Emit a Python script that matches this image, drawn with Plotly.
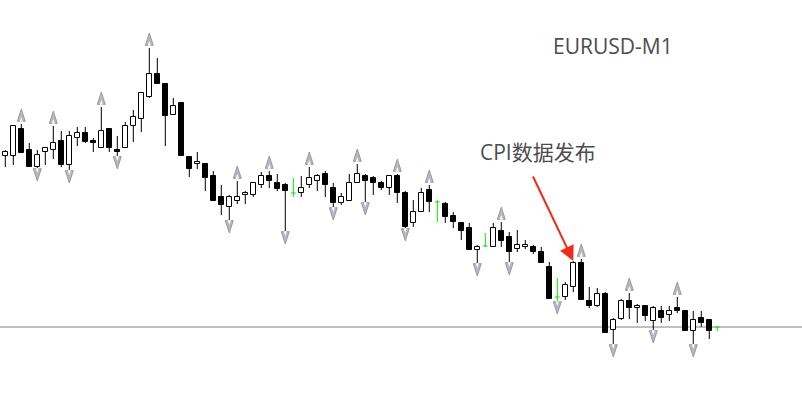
import plotly.graph_objects as go

# EURUSD M1 candles (prices)
open_ = [1.08671, 1.08671, 1.08698, 1.08677, 1.08660, 1.08675, 1.08677, 1.08686, 1.08662, 1.08689,
         1.08694, 1.08686, 1.08679, 1.08698, 1.08677, 1.08679, 1.08701, 1.08708, 1.08730, 1.08753,
         1.08743, 1.08712, 1.08724, 1.08670, 1.08663, 1.08663, 1.08651, 1.08630, 1.08620, 1.08626,
         1.08632, 1.08632, 1.08642, 1.08651, 1.08644, 1.08642, 1.08634, 1.08634, 1.08642, 1.08646,
         1.08653, 1.08639, 1.08624, 1.08626, 1.08644, 1.08651, 1.08649, 1.08644, 1.08639, 1.08651,
         1.08634, 1.08604, 1.08615, 1.08637, 1.08625, 1.08623, 1.08611, 1.08604, 1.08599, 1.08577,
         1.08581, 1.08580, 1.08596, 1.08590, 1.08578, 1.08580, 1.08580, 1.08575, 1.08560, 1.08530,
         1.08530, 1.08540, 1.08564, 1.08526, 1.08521, 1.08533, 1.08497, 1.08508, 1.08526, 1.08519,
         1.08521, 1.08506, 1.08516, 1.08512, 1.08519, 1.08516, 1.08496, 1.08509, 1.08507, 1.08500]
high = [1.08677, 1.08701, 1.08703, 1.08684, 1.08677, 1.08679, 1.08701, 1.08696, 1.08696, 1.08700,
        1.08700, 1.08689, 1.08720, 1.08698, 1.08691, 1.08705, 1.08717, 1.08734, 1.08779, 1.08769,
        1.08743, 1.08729, 1.08724, 1.08671, 1.08675, 1.08663, 1.08656, 1.08642, 1.08632, 1.08646,
        1.08636, 1.08644, 1.08655, 1.08656, 1.08653, 1.08644, 1.08649, 1.08651, 1.08660, 1.08653,
        1.08656, 1.08644, 1.08634, 1.08653, 1.08663, 1.08653, 1.08651, 1.08646, 1.08651, 1.08653,
        1.08636, 1.08627, 1.08639, 1.08642, 1.08627, 1.08625, 1.08615, 1.08605, 1.08604, 1.08582,
        1.08594, 1.08604, 1.08605, 1.08595, 1.08597, 1.08587, 1.08582, 1.08580, 1.08565, 1.08549,
        1.08545, 1.08566, 1.08568, 1.08540, 1.08539, 1.08535, 1.08509, 1.08528, 1.08534, 1.08523,
        1.08521, 1.08521, 1.08521, 1.08521, 1.08530, 1.08516, 1.08516, 1.08516, 1.08507, 1.08500]
low = [1.08660, 1.08662, 1.08674, 1.08660, 1.08659, 1.08662, 1.08668, 1.08660, 1.08657, 1.08681,
       1.08684, 1.08675, 1.08679, 1.08675, 1.08671, 1.08679, 1.08685, 1.08695, 1.08729, 1.08743,
       1.08681, 1.08712, 1.08671, 1.08650, 1.08658, 1.08636, 1.08626, 1.08612, 1.08607, 1.08623,
       1.08623, 1.08630, 1.08639, 1.08639, 1.08636, 1.08596, 1.08630, 1.08630, 1.08639, 1.08636,
       1.08630, 1.08620, 1.08622, 1.08626, 1.08644, 1.08625, 1.08632, 1.08637, 1.08632, 1.08624,
       1.08599, 1.08600, 1.08615, 1.08615, 1.08605, 1.08604, 1.08599, 1.08587, 1.08577, 1.08564,
       1.08580, 1.08580, 1.08580, 1.08565, 1.08575, 1.08578, 1.08573, 1.08564, 1.08528, 1.08526,
       1.08527, 1.08535, 1.08527, 1.08519, 1.08520, 1.08494, 1.08483, 1.08507, 1.08508, 1.08504,
       1.08506, 1.08497, 1.08504, 1.08506, 1.08514, 1.08496, 1.08483, 1.08500, 1.08488, 1.08496]
close = [1.08675, 1.08701, 1.08674, 1.08660, 1.08672, 1.08679, 1.08684, 1.08662, 1.08691, 1.08694,
         1.08685, 1.08684, 1.08696, 1.08679, 1.08675, 1.08701, 1.08710, 1.08734, 1.08753, 1.08743,
         1.08711, 1.08721, 1.08671, 1.08658, 1.08665, 1.08649, 1.08626, 1.08622, 1.08630, 1.08630,
         1.08634, 1.08644, 1.08651, 1.08646, 1.08638, 1.08636, 1.08634, 1.08639, 1.08649, 1.08651,
         1.08642, 1.08624, 1.08630, 1.08644, 1.08653, 1.08646, 1.08644, 1.08639, 1.08651, 1.08634,
         1.08600, 1.08615, 1.08634, 1.08625, 1.08625, 1.08610, 1.08605, 1.08596, 1.08577, 1.08580,
         1.08581, 1.08599, 1.08586, 1.08575, 1.08582, 1.08582, 1.08575, 1.08564, 1.08528, 1.08530,
         1.08542, 1.08564, 1.08527, 1.08521, 1.08533, 1.08494, 1.08507, 1.08526, 1.08519, 1.08521,
         1.08511, 1.08519, 1.08509, 1.08516, 1.08516, 1.08496, 1.08507, 1.08504, 1.08496, 1.08500]

up_fractals = [2, 6, 12, 18, 29, 33, 38, 44, 49, 53, 62, 72, 78, 84]
down_fractals = [4, 8, 14, 28, 35, 41, 45, 50, 59, 63, 69, 76, 81, 86]

symbol_label = "EURUSD-M1"
event_label = "CPI数据发布"
event_bar = 71

n = len(open_)
idx = list(range(n))

PT = 0.00001  # one price point (= one pixel with the chosen y range)
UP_TIP = 15 * PT     # arrow tip above the high
DN_TIP = 13 * PT     # arrow tip below the low
NOTCH = 8 * PT       # notch tip distance from arrow tip
BODY_W = 0.58
DOJI_HALF = 0.3

wx, wy = [], []
dx, dy = [], []
bull_x, bull_b, bull_h = [], [], []
bear_x, bear_b, bear_h = [], [], []
for i in idx:
    o, h, l, c = open_[i], high[i], low[i], close[i]
    if abs(o - c) < 1e-9:
        dx += [i, i, None, i - DOJI_HALF, i + DOJI_HALF, None]
        dy += [h, l, None, o, o, None]
        continue
    top, bot = max(o, c), min(o, c)
    if h > top:
        wx += [i, i, None]
        wy += [h, top, None]
    if l < bot:
        wx += [i, i, None]
        wy += [bot, l, None]
    if c > o:
        bull_x.append(i); bull_b.append(o); bull_h.append(c - o)
    else:
        bear_x.append(i); bear_b.append(c); bear_h.append(o - c)

fig = go.Figure()
fig.add_trace(go.Scatter(x=wx, y=wy, mode="lines", line=dict(color="black", width=1),
                         hoverinfo="skip", showlegend=False))
fig.add_trace(go.Bar(x=bull_x, y=bull_h, base=bull_b, width=BODY_W,
                     marker=dict(color="white", line=dict(color="black", width=1)),
                     showlegend=False))
fig.add_trace(go.Bar(x=bear_x, y=bear_h, base=bear_b, width=BODY_W,
                     marker=dict(color="black", line=dict(color="black", width=1)),
                     showlegend=False))
fig.add_trace(go.Scatter(x=dx, y=dy, mode="lines", line=dict(color="#00e600", width=1),
                         hoverinfo="skip", showlegend=False))

arrow_fill = "#b6b7c1"
arrow_edge = "#8a8d9a"
# up fractal arrows (tip at the marker point) + white notch
fig.add_trace(go.Scatter(x=up_fractals, y=[high[i] + UP_TIP for i in up_fractals],
                         mode="markers",
                         marker=dict(symbol="arrow", angle=0, size=13, color=arrow_fill,
                                     line=dict(color=arrow_edge, width=0.8)),
                         showlegend=False))
fig.add_trace(go.Scatter(x=up_fractals, y=[high[i] + UP_TIP - NOTCH for i in up_fractals],
                         mode="markers",
                         marker=dict(symbol="arrow", angle=0, size=5, color="white",
                                     line=dict(width=0)),
                         showlegend=False))
fig.add_trace(go.Scatter(x=down_fractals, y=[low[i] - DN_TIP for i in down_fractals],
                         mode="markers",
                         marker=dict(symbol="arrow", angle=180, size=13, color=arrow_fill,
                                     line=dict(color=arrow_edge, width=0.8)),
                         showlegend=False))
fig.add_trace(go.Scatter(x=down_fractals, y=[low[i] - DN_TIP + NOTCH for i in down_fractals],
                         mode="markers",
                         marker=dict(symbol="arrow", angle=180, size=5, color="white",
                                     line=dict(width=0)),
                         showlegend=False))

fig.add_shape(type="line", xref="paper", x0=0, x1=1, yref="y", y0=close[-1], y1=close[-1],
              line=dict(color="#7f7f7f", width=1), layer="below")

fig.add_annotation(x=event_bar, y=high[event_bar], text="", showarrow=True,
                   ax=-41, ay=-86, arrowcolor="#f22a1c", arrowwidth=2,
                   arrowhead=2, arrowsize=1.5, standoff=0)
fig.add_annotation(xref="paper", yref="paper", x=537.5 / 802, y=1 - 152 / 406,
                   text=event_label, showarrow=False, xanchor="center", yanchor="middle",
                   font=dict(family="Open Sans, Noto Sans CJK SC", size=21, color="#4d4d4d"))
fig.add_annotation(xref="paper", yref="paper", x=612.5 / 802, y=1 - 46 / 406,
                   text=symbol_label, showarrow=False, xanchor="center", yanchor="middle",
                   font=dict(family="Open Sans, Noto Sans CJK SC", size=21, color="#4d4d4d"))

fig.update_layout(
    width=802, height=406,
    margin=dict(l=0, r=0, t=0, b=0),
    paper_bgcolor="white", plot_bgcolor="white",
    barmode="overlay", bargap=0,
    xaxis=dict(visible=False, range=[-0.6625, 99.59]),
    yaxis=dict(visible=False, range=[1.08421, 1.08827]),
    showlegend=False,
    hovermode=False,
)
fig.write_html("out.html", config={"displayModeBar": False},
               post_script="document.body.style.margin='0';document.body.style.overflow='hidden';")
